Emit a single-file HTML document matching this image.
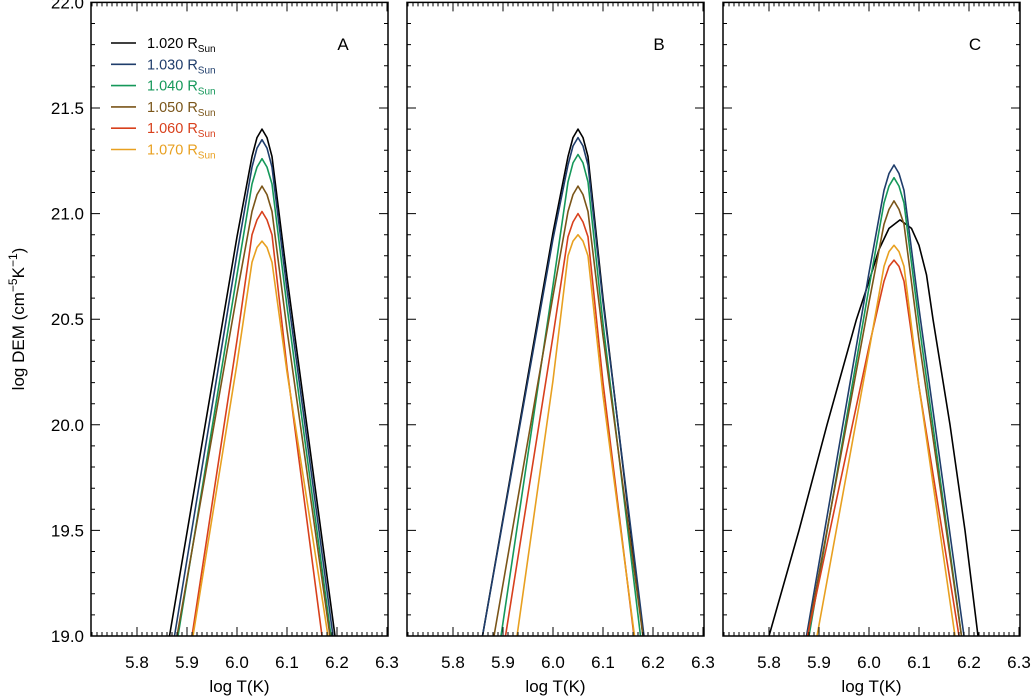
<!DOCTYPE html>
<html><head><meta charset="utf-8"><style>
html,body{margin:0;padding:0;background:#fff;}
svg{display:block;font-family:"Liberation Sans","DejaVu Sans",sans-serif;}
</style></head><body>
<svg id="chart" width="1036" height="697" viewBox="0 0 1036 697" xmlns="http://www.w3.org/2000/svg"></svg>
<script>
const panelNames = ["A","B","C"];
const seriesLabels = ["1.020","1.030","1.040","1.050","1.060","1.070"];
const xTicks = [5.8,5.9,6.0,6.1,6.2,6.3];
const xTickLabels = ["5.8","5.9","6.0","6.1","6.2","6.3"];
const yTicks = [19.0,19.5,20.0,20.5,21.0,21.5,22.0];
const yTickLabels = ["19.0","19.5","20.0","20.5","21.0","21.5","22.0"];
// Panel A
const aBlackT=[5.865,6.00,6.03,6.04,6.05,6.06,6.07,6.10,6.196], aBlackD=[19,20.89,21.27,21.36,21.40,21.36,21.27,20.70,19];
const aBlueT=[5.875,6.00,6.03,6.04,6.05,6.06,6.07,6.10,6.192], aBlueD=[19,20.81,21.22,21.31,21.35,21.31,21.22,20.64,19];
const aGreenT=[5.882,6.00,6.03,6.04,6.05,6.06,6.07,6.10,6.188], aGreenD=[19,20.71,21.14,21.22,21.26,21.22,21.14,20.56,19];
const aBrownT=[5.880,6.00,6.03,6.04,6.05,6.06,6.07,6.10,6.186], aBrownD=[19,20.62,21.01,21.09,21.13,21.09,21.01,20.45,19];
const aRedT=[5.910,6.00,6.03,6.04,6.05,6.06,6.07,6.10,6.170], aRedD=[19,20.40,20.90,20.97,21.01,20.97,20.90,20.27,19];
const aOrangeT=[5.912,6.00,6.03,6.04,6.05,6.06,6.07,6.10,6.182], aOrangeD=[19,20.29,20.77,20.84,20.87,20.84,20.77,20.25,19];
// Panel B
const bBlackT=[5.859,6.00,6.03,6.04,6.05,6.06,6.07,6.10,6.180], bBlackD=[19,20.91,21.27,21.36,21.40,21.36,21.27,20.60,19];
const bBlueT=[5.859,6.00,6.03,6.04,6.05,6.06,6.07,6.10,6.182], bBlueD=[19,20.88,21.23,21.32,21.36,21.32,21.23,20.58,19];
const bGreenT=[5.896,6.00,6.03,6.04,6.05,6.06,6.07,6.10,6.175], bGreenD=[19,20.66,21.15,21.24,21.28,21.24,21.15,20.48,19];
const bBrownT=[5.882,6.00,6.03,6.04,6.05,6.06,6.07,6.10,6.180], bBrownD=[19,20.61,21.01,21.09,21.13,21.09,21.01,20.42,19];
const bRedT=[5.905,6.00,6.03,6.04,6.05,6.06,6.07,6.10,6.162], bRedD=[19,20.42,20.89,20.96,21.00,20.96,20.89,20.20,19];
const bOrangeT=[5.928,6.00,6.03,6.04,6.05,6.06,6.07,6.10,6.163], bOrangeD=[19,20.21,20.80,20.87,20.90,20.87,20.80,20.14,19];
// Panel C
const cBlackT=[5.800,5.860,5.916,5.975,6.000,6.020,6.040,6.062,6.085,6.100,6.115,6.128,6.162,6.192,6.218], cBlackD=[19,19.5,20.0,20.5,20.68,20.83,20.93,20.97,20.93,20.85,20.71,20.5,20.0,19.5,19];
const cBlueT=[5.875,6.00,6.03,6.04,6.05,6.06,6.07,6.10,6.190], cBlueD=[19,20.72,21.11,21.19,21.23,21.19,21.11,20.55,19];
const cGreenT=[5.880,6.00,6.03,6.04,6.05,6.06,6.07,6.10,6.185], cGreenD=[19,20.65,21.05,21.13,21.17,21.13,21.05,20.48,19];
const cBrownT=[5.877,6.00,6.03,6.04,6.05,6.06,6.07,6.10,6.185], cBrownD=[19,20.58,20.95,21.02,21.06,21.02,20.95,20.40,19];
const cRedT=[5.877,6.00,6.03,6.04,6.05,6.06,6.07,6.10,6.180], cRedD=[19,20.37,20.68,20.75,20.78,20.75,20.68,20.18,19];
const cOrangeT=[5.896,6.00,6.03,6.04,6.05,6.06,6.07,6.10,6.172], cOrangeD=[19,20.35,20.75,20.82,20.85,20.82,20.75,20.18,19];

const colors=["#000000","#1f3d6b","#15985a","#7a5519","#d8401c","#e8a020"];
const panelData=[
 [[aBlackT,aBlackD],[aBlueT,aBlueD],[aGreenT,aGreenD],[aBrownT,aBrownD],[aRedT,aRedD],[aOrangeT,aOrangeD]],
 [[bBlackT,bBlackD],[bBlueT,bBlueD],[bGreenT,bGreenD],[bBrownT,bBrownD],[bRedT,bRedD],[bOrangeT,bOrangeD]],
 [[cBlackT,cBlackD],[cBlueT,cBlueD],[cGreenT,cGreenD],[cBrownT,cBrownD],[cRedT,cRedD],[cOrangeT,cOrangeD]]
];
const lefts=[91,407,723];
const PW=297, TOP=2.4, BOT=636;
const NS="http://www.w3.org/2000/svg";
const svg=document.getElementById("chart");
function mk(tag,attrs,parent){const e=document.createElementNS(NS,tag);for(const k in attrs)e.setAttribute(k,attrs[k]);(parent||svg).appendChild(e);return e;}
function yS(v){return BOT-(v-19)*(BOT-TOP)/3;}
const defs=mk("defs",{});
panelNames.forEach((pn,p)=>{
  const L=lefts[p];
  function xS(v){return L+46+(v-5.8)*500;}
  const g=mk("g",{});
  
  
  const cp=mk("clipPath",{id:"clip"+p},defs);
  mk("rect",{x:L,y:TOP,width:PW,height:BOT-TOP},cp);
  panelData[p].forEach((s,i)=>{
    const pts=s[0].map((t,j)=>xS(t).toFixed(1)+","+yS(s[1][j]).toFixed(1)).join(" ");
    const pl=mk("polyline",{points:pts,fill:"none",stroke:colors[i],"stroke-width":1.6,"stroke-linejoin":"round","clip-path":"url(#clip"+p+")"},g);
    
    
  });
  const fr=mk("rect",{x:L,y:TOP,width:PW,height:BOT-TOP,fill:"none",stroke:"#000","stroke-width":1.5},g);
  
  
  let d="";
  for(let k=0;k<=62;k++){const v=5.71+k*0.01;const x=xS(v);if(x<L+0.5||x>L+PW-0.5)continue;
    const major=Math.abs(Math.round(v*10)-v*10)<1e-6;const len=major?9:4;
    d+=`M${x.toFixed(1)},${BOT}v${-len}M${x.toFixed(1)},${TOP}v${len}`;}
  for(let k=0;k<=30;k++){const v=19+k*0.1;const y=yS(v);if(y<TOP+0.5||y>BOT-0.5)continue;
    const major=Math.abs(Math.round(v*2)-v*2)<1e-6;const len=major?9:4;
    d+=`M${L},${y.toFixed(1)}h${len}M${L+PW},${y.toFixed(1)}h${-len}`;}
  const tk=mk("path",{d:d,stroke:"#000","stroke-width":1,fill:"none"},g);
  
  
  xTicks.forEach((v,k)=>{
    const t=mk("text",{x:xS(v),y:668,"text-anchor":"middle","font-size":17},g);
    t.textContent=xTickLabels[k];
    
    
  });
  const xt=mk("text",{x:L+PW/2,y:692,"text-anchor":"middle","font-size":17},g);
  xt.textContent="log T(K)";
  
  
  const lab=mk("text",{x:L+252,y:50,"text-anchor":"middle","font-size":17},g);
  lab.textContent=pn;
  
  
});
yTicks.forEach((v,k)=>{
  const t=mk("text",{x:84,y:yS(v)+6,"text-anchor":"end","font-size":17});
  t.textContent=yTickLabels[k];
  
  
});
const yt=mk("text",{x:0,y:0,"text-anchor":"middle","font-size":17,transform:"translate(24,319) rotate(-90)"});
yt.innerHTML='log DEM (cm<tspan dy="-7" font-size="12">−5</tspan><tspan dy="7">K</tspan><tspan dy="-7" font-size="12">−1</tspan><tspan dy="7">)</tspan>';


const lg=mk("g",{});


seriesLabels.forEach((s,i)=>{
  const y=43+i*21.3;
  const ln=mk("line",{x1:111,x2:136,y1:y,y2:y,stroke:colors[i],"stroke-width":1.6},lg);
  
  
  const t=mk("text",{x:147,y:y+5,"font-size":14.5,fill:colors[i]},lg);
  t.innerHTML=s+' R<tspan dy="4" font-size="10">Sun</tspan>';
  
  
});
</script>
</body></html>
